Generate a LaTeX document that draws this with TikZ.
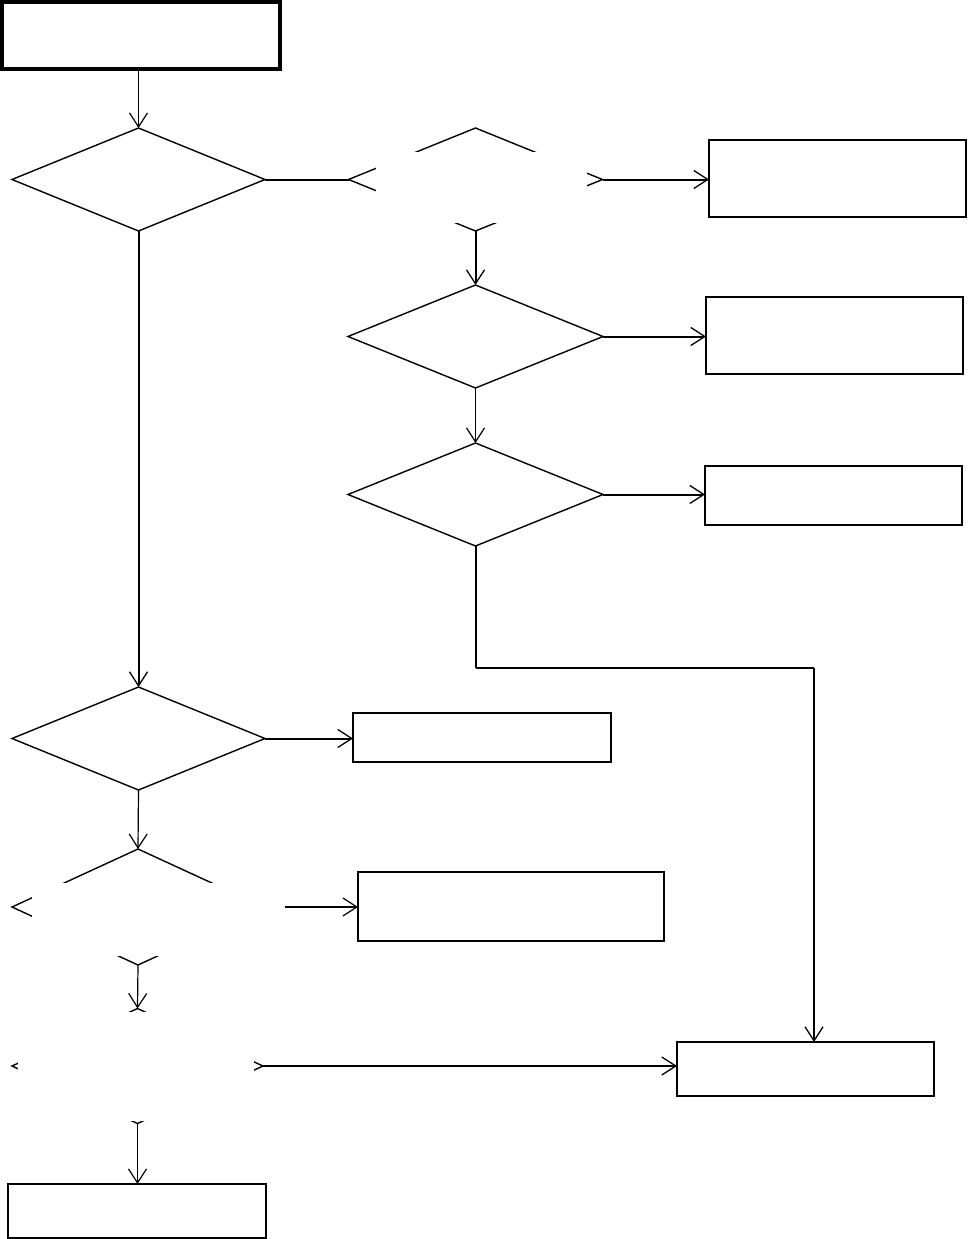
\documentclass[tikz,border=0pt]{standalone}
\usetikzlibrary{arrows.meta,shapes.geometric}
\begin{document}
\begin{tikzpicture}[x=1pt,y=-1pt,
  box/.style={draw,rectangle,line width=2pt,inner sep=0pt,outer sep=0pt},
  dia/.style={draw,diamond,line width=1.4pt,inner sep=0pt,outer sep=0pt},
  cover/.style={fill=white,draw=none,rectangle,inner sep=0pt,outer sep=0pt},
  thin/.style={line width=1.2pt,-{Straight Barb[length=14pt,width=18pt]}},
  thick/.style={line width=2pt,-{Straight Barb[length=14pt,width=18pt,line width=1.3pt]}},
  plain/.style={line width=2pt}]
\useasboundingbox[fill=white] (0,0) rectangle (967,1239);
% boxes
\node[box,line width=3.5pt,minimum width=278pt,minimum height=67pt] (b1) at (141,35.5) {};
\node[box,minimum width=257pt,minimum height=77pt] (b2) at (837.5,178.5) {};
\node[box,minimum width=257pt,minimum height=77pt] (b3) at (834.5,335.5) {};
\node[box,minimum width=257pt,minimum height=59pt] (b4) at (833.5,495.5) {};
\node[box,line width=1.5pt,minimum width=258pt,minimum height=49pt] (b5) at (482,737.5) {};
\node[box,minimum width=306pt,minimum height=69pt] (b6) at (511,906.5) {};
\node[box,minimum width=257pt,minimum height=54pt] (b7) at (805.5,1069) {};
\node[box,minimum width=258pt,minimum height=54pt] (b8) at (137,1211) {};
% diamonds
\node[dia,minimum width=253pt,minimum height=103pt] (d1) at (138.5,179.5) {};
\node[dia,minimum width=254pt,minimum height=103pt] (d2) at (475.5,179.5) {};
\node[dia,minimum width=255pt,minimum height=103pt] (d3) at (475.5,336.5) {};
\node[dia,minimum width=255pt,minimum height=103pt] (d4) at (475.5,494.5) {};
\node[dia,minimum width=253pt,minimum height=103pt] (d5) at (138.5,738.5) {};
\node[dia,minimum width=252pt,minimum height=116pt] (d6) at (138,907) {};
\node[dia,minimum width=251pt,minimum height=115pt] (d7) at (137.5,1066) {};
\coordinate (elbow) at (814,668);
% connectors
\draw[thin] (d1.north |- b1.south) -- (d1.north);
\draw[plain] (d1.east) -- (d2.west);
\draw[thick] (d2.east) -- (d2.east -| b2.west);
\draw[thick] (d2.south) -- (d3.north);
\draw[thick] (d3.east) -- (d3.east -| b3.west);
\draw[thin] (d3.south) -- (d4.north);
\draw[thick] (d4.east) -- (d4.east -| b4.west);
\draw[plain] (d4.south) -- (d4.south |- elbow);
\draw[line width=1.2pt] (d4.south |- elbow) -- (elbow);
\draw[thick] (elbow) -- (elbow |- b7.north);
\draw[thick] (d1.south) -- (d5.north);
\draw[thick] (d5.east) -- (d5.east -| b5.west);
\draw[thin] (d5.south) -- (d6.north);
\draw[thin] (d6.east) -- (d6.east -| b6.west);
\draw[thin] (d6.south) -- (d7.north);
\draw[thick] (d7.east) -- (d7.east -| b7.west);
\draw[thin] (d7.south) -- (d7.south |- b8.north);
% empty text areas covering parts of the diamonds
\node[cover,minimum width=211pt,minimum height=71pt] (c2) at (481.5,187.5) {};
\node[cover,minimum width=253pt,minimum height=73pt] (c6) at (158.5,919.5) {};
\node[cover,minimum width=236pt,minimum height=109pt] (c7) at (136,1066.5) {};
\end{tikzpicture}
\end{document}
